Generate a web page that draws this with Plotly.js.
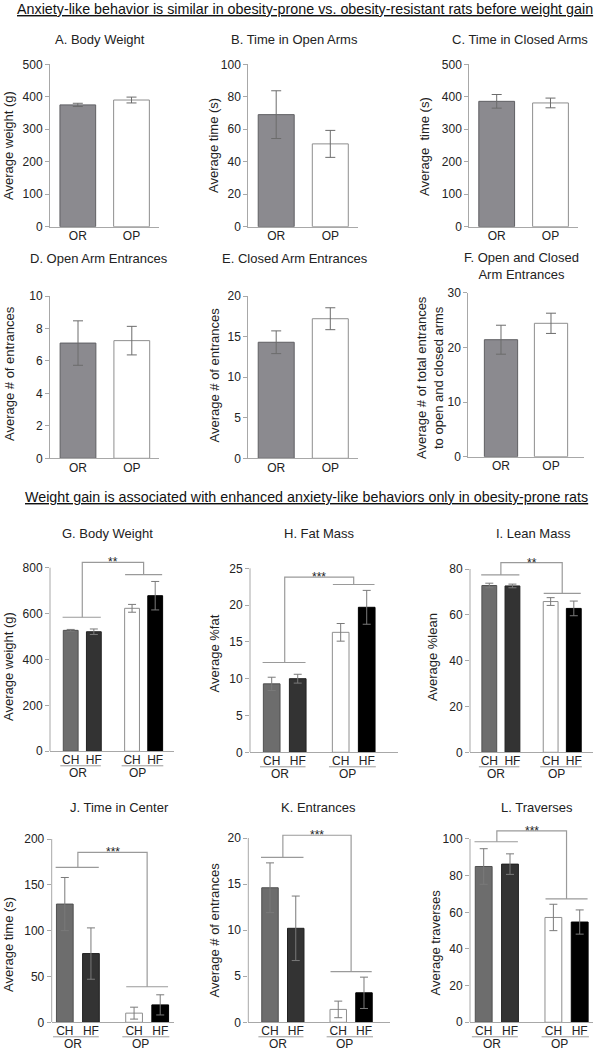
<!DOCTYPE html>
<html><head><meta charset="utf-8">
<script src="https://cdn.plot.ly/plotly-3.0.1.min.js"></script>
<style>html,body{margin:0;padding:0;background:#fff}#chart{width:611px;height:1050px}</style>
</head><body><div id="chart"></div>
<script>
// ---------------- data ----------------
const strainsTop = ['OR', 'OP'];
const bodyWeightA = [375, 390];
const bodyWeightAErr = [5, 9];
const openArmTime = [69, 51];
const openArmTimeErr = [14.7, 8.3];
const closedArmTime = [386, 381];
const closedArmTimeErr = [21, 15];
const openArmEntries = [7.1, 7.25];
const openArmEntriesErr = [1.37, 0.88];
const closedArmEntries = [14.3, 17.2];
const closedArmEntriesErr = [1.4, 1.35];
const totalArmEntries = [21.4, 24.4];
const totalArmEntriesErr = [2.65, 1.85];

const diets = ['CH', 'HF', 'CH', 'HF'];
const strainsBottom = ['OR', 'OP'];
const bodyWeightG = [527, 521, 623, 678];
const bodyWeightGErr = [4, 12, 17, 62];
const fatMass = [9.3, 10.0, 16.3, 19.7];
const fatMassErr = [0.9, 0.6, 1.2, 2.3];
const leanMass = [72.8, 72.6, 65.8, 62.8];
const leanMassErr = [1.0, 0.8, 1.7, 3.2];
const centerTime = [129, 75, 10, 19];
const centerTimeErr = [29, 28, 6.5, 11];
const centerEntries = [14.6, 10.2, 1.4, 3.2];
const centerEntriesErr = [2.7, 3.5, 0.9, 1.7];
const traverses = [85, 86.3, 57.2, 54.7];
const traversesErr = [9.7, 5.6, 7.2, 6.6];

// significance brackets (G..L)
const sigLabels = ['**', '***', '**', '***', '***', '***'];
const sigLevelOR = [584, 12.2, 77.4, 169, 17.9, 98.5];
const sigLevelTop = [823, 23.8, 82.8, 185.5, 20.3, 104.4];
const sigLevelOP = [770, 22.8, 69.4, 38.8, 5.5, 67.3];

// ---------------- layout geometry (pixels) ----------------
const W = 611, H = 1050;
const FONT = 'Liberation Sans, Arial, Helvetica, sans-serif';
const px = v => v / W;
const py = v => 1 - v / H;

const topPanels = [
  {title: 'A. Body Weight', ytitle: 'Average weight (g)', y: bodyWeightA, e: bodyWeightAErr, ymax: 500, dtick: 100,
   L: 50, R: 159, c0: 77.8, u: 53.7, T: 64.3, B: 226.7, tx: 100, ty: 39, ytx: 8, yty: 146},
  {title: 'B. Time in Open Arms', ytitle: 'Average time (s)', y: openArmTime, e: openArmTimeErr, ymax: 100, dtick: 20,
   L: 248.3, R: 357.7, c0: 276.2, u: 54.1, T: 64.3, B: 226.7, tx: 294, ty: 39, ytx: 213, yty: 146},
  {title: 'C. Time in Closed Arms', ytitle: 'Average  time (s)', y: closedArmTime, e: closedArmTimeErr, ymax: 500, dtick: 100,
   L: 469.3, R: 577.7, c0: 496.7, u: 53.8, T: 64.3, B: 226.7, tx: 520, ty: 39, ytx: 424, yty: 146},
  {title: 'D. Open Arm Entrances', ytitle: 'Average # of entrances', y: openArmEntries, e: openArmEntriesErr, ymax: 10, dtick: 2,
   L: 50, R: 159, c0: 78, u: 53.8, T: 296, B: 458.3, tx: 99, ty: 258, ytx: 9, yty: 374},
  {title: 'E. Closed Arm Entrances', ytitle: 'Average # of entrances', y: closedArmEntries, e: closedArmEntriesErr, ymax: 20, dtick: 5,
   L: 248.3, R: 357.7, c0: 276.2, u: 54.1, T: 296, B: 458.3, tx: 295, ty: 258, ytx: 213.5, yty: 375},
  {title: 'F. Open and Closed<br>Arm Entrances', ytitle: 'Average # of total entrances<br>to open and closed arms', y: totalArmEntries, e: totalArmEntriesErr, ymax: 30, dtick: 10,
   L: 468.3, R: 584.3, c0: 501, u: 50, T: 292.7, B: 456.7, tx: 521, ty: 265.5, ytx: 430, yty: 378}
];

const bottomPanels = [
  {title: 'G. Body Weight', ytitle: 'Average weight (g)', y: bodyWeightG, e: bodyWeightGErr, ymax: 800, ymaxR: 850, dtick: 200,
   L: 50, R: 174, c0: 70.7, u: 23.15, Tt: 567.7, B: 751.3, tx: 107.5, ty: 533.5, ytx: 8, yty: 667},
  {title: 'H. Fat Mass', ytitle: 'Average %fat', y: fatMass, e: fatMassErr, ymax: 25, ymaxR: 25.5, dtick: 5,
   L: 250, R: 398.3, c0: 271.7, u: 26.03, Tt: 568.3, B: 752.3, tx: 319, ty: 533.5, ytx: 213.5, yty: 654},
  {title: 'I. Lean Mass', ytitle: 'Average %lean', y: leanMass, e: leanMassErr, ymax: 80, ymaxR: 86, dtick: 20,
   L: 470, R: 593.3, c0: 489.3, u: 23.15, Tt: 569, B: 752.3, tx: 533.7, ty: 533.5, ytx: 432, yty: 657},
  {title: 'J. Time in Center', ytitle: 'Average time (s)', y: centerTime, e: centerTimeErr, ymax: 200, ymaxR: 204, dtick: 50,
   L: 51.7, R: 174, c0: 64.8, u: 26.14, Tt: 839, B: 1022.3, tx: 120, ty: 807, ytx: 8, yty: 945},
  {title: 'K. Entrances', ytitle: 'Average # of entrances', y: centerEntries, e: centerEntriesErr, ymax: 20, ymaxR: 22, dtick: 5,
   L: 248.3, R: 390, c0: 270, u: 25.75, Tt: 838, B: 1022.3, tx: 318, ty: 807, ytx: 213.5, yty: 930},
  {title: 'L. Traverses', ytitle: 'Average traverses', y: traverses, e: traversesErr, ymax: 100, ymaxR: 108, dtick: 20,
   L: 470, R: 593.3, c0: 483.7, u: 26.3, Tt: 839, B: 1022.3, tx: 537, ty: 807.5, ytx: 435, yty: 942.5}
];

const topFill = ['#8b8a8f', '#ffffff'];
const topLine = ['#5f5f63', '#8e8e8e'];
const botFill = ['#6d6d6d', '#333333', '#ffffff', '#000000'];
const botLine = ['#505050', '#222222', '#8e8e8e', '#000000'];
const barPos = [0, 1, 2.65, 3.65];

const AX = '#a8a8a8';
const TXT = '#222222';

const traces = [];
const layout = {
  width: W, height: H, margin: {l: 0, r: 0, t: 0, b: 0},
  paper_bgcolor: '#ffffff', plot_bgcolor: 'rgba(0,0,0,0)',
  showlegend: false, font: {family: FONT, color: TXT, size: 12},
  annotations: [], shapes: []
};

function ids(i) {
  const s = i === 1 ? '' : String(i);
  return {xa: 'x' + s, ya: 'y' + s, xk: 'xaxis' + s, yk: 'yaxis' + s};
}
function ticks(max, d) { const t = []; for (let v = 0; v <= max + 1e-9; v += d) t.push(+v.toFixed(6)); return t; }

// section headers
layout.annotations.push({
  text: '<u>Anxiety-like behavior is similar in obesity-prone vs. obesity-resistant rats before weight gain</u>',
  xref: 'paper', yref: 'paper', x: px(305), y: py(9), xanchor: 'center', yanchor: 'middle', showarrow: false,
  font: {size: 14.3, color: '#111', family: FONT}
});
layout.annotations.push({
  text: '<u>Weight gain is associated with enhanced anxiety-like behaviors only in obesity-prone rats</u>',
  xref: 'paper', yref: 'paper', x: px(306), y: py(497), xanchor: 'center', yanchor: 'middle', showarrow: false,
  font: {size: 14.3, color: '#111', family: FONT}
});

function commonText(p) {
  layout.annotations.push({text: p.title, xref: 'paper', yref: 'paper', x: px(p.tx), y: py(p.ty),
    xanchor: 'center', yanchor: 'middle', showarrow: false, font: {size: 13, color: TXT, family: FONT}});
  layout.annotations.push({text: p.ytitle, xref: 'paper', yref: 'paper', x: px(p.ytx), y: py(p.yty),
    xanchor: 'center', yanchor: 'middle', textangle: -90, showarrow: false, font: {size: 13, color: TXT, family: FONT}});
}

topPanels.forEach((p, k) => {
  const {xa, ya, xk, yk} = ids(k + 1);
  traces.push({
    type: 'bar', x: [0, 1], y: p.y, width: 0.665, xaxis: xa, yaxis: ya, hoverinfo: 'skip',
    marker: {color: topFill, line: {color: topLine, width: 1}},
    error_y: {type: 'data', array: p.e, visible: true, color: '#6c6c6c', thickness: 1, width: 5}
  });
  layout[xk] = {domain: [px(p.L), px(p.R)], range: [(p.L - p.c0) / p.u, (p.R - p.c0) / p.u], anchor: ya,
    showline: true, linecolor: AX, linewidth: 1, ticks: '', tickvals: [0, 1], ticktext: strainsTop, ticklabelstandoff: -2,
    tickfont: {size: 12, color: TXT}, showgrid: false, zeroline: false, fixedrange: true};
  layout[yk] = {domain: [py(p.B), py(p.T)], range: [0, p.ymax], anchor: xa,
    showline: true, linecolor: AX, linewidth: 1, ticks: 'outside', ticklen: 4, tickcolor: AX,
    tickvals: ticks(p.ymax, p.dtick), tickfont: {size: 12, color: TXT}, showgrid: false, zeroline: false, fixedrange: true};
  commonText(p);
});

bottomPanels.forEach((p, k) => {
  const i = k + 7;
  const {xa, ya, xk, yk} = ids(i);
  const scale = (p.B - p.Tt) / p.ymax;
  const T = p.B - p.ymaxR * scale;
  traces.push({
    type: 'bar', x: barPos, y: p.y, width: 0.64, xaxis: xa, yaxis: ya, hoverinfo: 'skip',
    marker: {color: botFill, line: {color: botLine, width: 1}},
    error_y: {type: 'data', array: p.e, visible: true, color: '#7a7a7a', thickness: 1, width: 4}
  });
  // significance bracket
  const cOR = (barPos[0] + barPos[1]) / 2, cOP = (barPos[2] + barPos[3]) / 2;
  traces.push({
    type: 'scatter', mode: 'lines', xaxis: xa, yaxis: ya, hoverinfo: 'skip',
    x: [barPos[0] - 0.35, barPos[1] + 0.3, null, cOR, cOR, cOP, cOP, null, barPos[2] - 0.3, barPos[3] + 0.3],
    y: [sigLevelOR[k], sigLevelOR[k], null, sigLevelOR[k], sigLevelTop[k], sigLevelTop[k], sigLevelOP[k], null, sigLevelOP[k], sigLevelOP[k]],
    line: {color: '#9a9a9a', width: 1.2}
  });
  layout.annotations.push({text: sigLabels[k], xref: xa, yref: ya, x: (cOR + cOP) / 2, y: sigLevelTop[k],
    xanchor: 'center', yanchor: 'middle', showarrow: false, font: {size: 12, color: TXT, family: FONT}});
  layout[xk] = {domain: [px(p.L), px(p.R)], range: [(p.L - p.c0) / p.u, (p.R - p.c0) / p.u], anchor: ya,
    showline: true, linecolor: AX, linewidth: 1, ticks: '', tickvals: barPos, ticktext: diets, ticklabelstandoff: -3,
    tickfont: {size: 12, color: TXT}, showgrid: false, zeroline: false, fixedrange: true};
  layout[yk] = {domain: [py(p.B), py(T)], range: [0, p.ymaxR], anchor: xa,
    showline: false, ticks: 'outside', ticklen: 4, tickcolor: AX,
    tickvals: ticks(p.ymax, p.dtick), tickfont: {size: 12, color: TXT}, showgrid: false, zeroline: false, fixedrange: true};
  // y axis line only up to the top tick
  layout.shapes.push({type: 'line', xref: xa + ' domain', yref: ya, x0: 0, x1: 0, y0: 0, y1: p.ymax,
    line: {color: AX, width: 1}});
  // group underlines and strain labels
  [[barPos[0] - 0.45, barPos[1] + 0.3, 0.3, strainsBottom[0]], [barPos[2] - 0.45, barPos[3] + 0.35, 2.9, strainsBottom[1]]].forEach(g => {
    layout.shapes.push({type: 'line', xref: xa, yref: 'paper', x0: g[0], x1: g[1], y0: py(p.B + 14.5), y1: py(p.B + 14.5),
      line: {color: '#9a9a9a', width: 1}});
    layout.annotations.push({text: g[3], xref: xa, yref: 'paper', x: g[2], y: py(p.B + 21.5), xanchor: 'center', yanchor: 'middle',
      showarrow: false, font: {size: 12, color: TXT, family: FONT}});
  });
  commonText(p);
});

Plotly.newPlot('chart', traces, layout, {staticPlot: true, displayModeBar: false});
</script>
</body></html>
